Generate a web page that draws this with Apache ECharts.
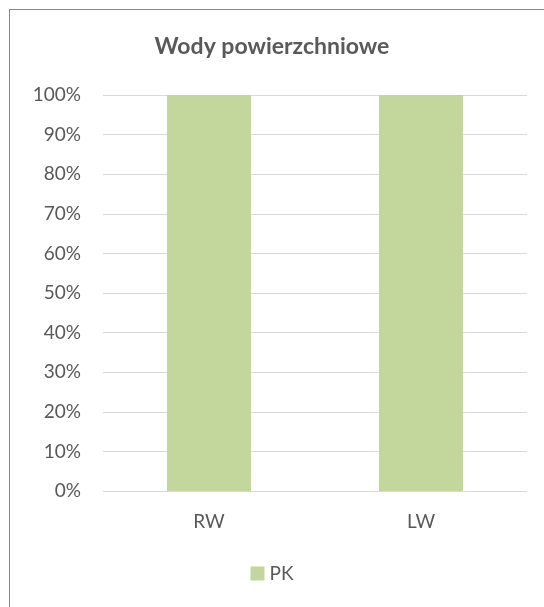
<!DOCTYPE html>
<html>
<head>
<meta charset="utf-8">
<script src="https://cdn.jsdelivr.net/npm/echarts@6/dist/echarts.min.js"></script>
<style>
  html, body { margin: 0; padding: 0; background: #fff; }
  #frame { position: absolute; left: 9px; top: 9px; width: 560px; height: 620px; border: 1px solid #898989; box-sizing: border-box; }
  #chart { position: absolute; left: 0; top: 0; width: 544px; height: 607px; }
</style>
</head>
<body>
<div id="frame"></div>
<div id="chart"></div>
<script>
const categories = ['RW', 'LW'];
const pkValues = [100, 100];
const yTicks = [0, 10, 20, 30, 40, 50, 60, 70, 80, 90, 100];

const chart = echarts.init(document.getElementById('chart'));
const font = 'Lato, "Open Sans", sans-serif';

chart.setOption({
  animation: false,
  title: {
    text: 'Wody powierzchniowe',
    left: 'center',
    top: 30,
    textStyle: { fontFamily: font, fontSize: 23, fontWeight: 'bold', color: '#595959' }
  },
  legend: {
    bottom: 19,
    left: 'center',
    itemWidth: 14,
    itemHeight: 14,
    itemGap: 5,
    icon: 'rect',
    textStyle: { fontFamily: font, fontSize: 19, color: '#595959' },
    data: ['PK']
  },
  grid: { left: 103, right: 17, top: 95, bottom: 116, containLabel: false },
  xAxis: {
    type: 'category',
    data: categories,
    axisLine: { show: false },
    axisTick: { show: false },
    axisLabel: { margin: 21, fontFamily: font, fontSize: 19, color: '#595959' }
  },
  yAxis: {
    type: 'value',
    min: yTicks[0],
    max: yTicks[yTicks.length - 1],
    interval: 10,
    axisLine: { show: false },
    axisTick: { show: false },
    splitLine: { lineStyle: { color: '#d9d9d9', width: 1 } },
    axisLabel: { margin: 22, fontFamily: font, fontSize: 19, color: '#595959', formatter: '{value}%' }
  },
  series: [{
    name: 'PK',
    type: 'bar',
    data: pkValues,
    barWidth: 84,
    itemStyle: { color: '#c3d69b' }
  }]
});
</script>
</body>
</html>
